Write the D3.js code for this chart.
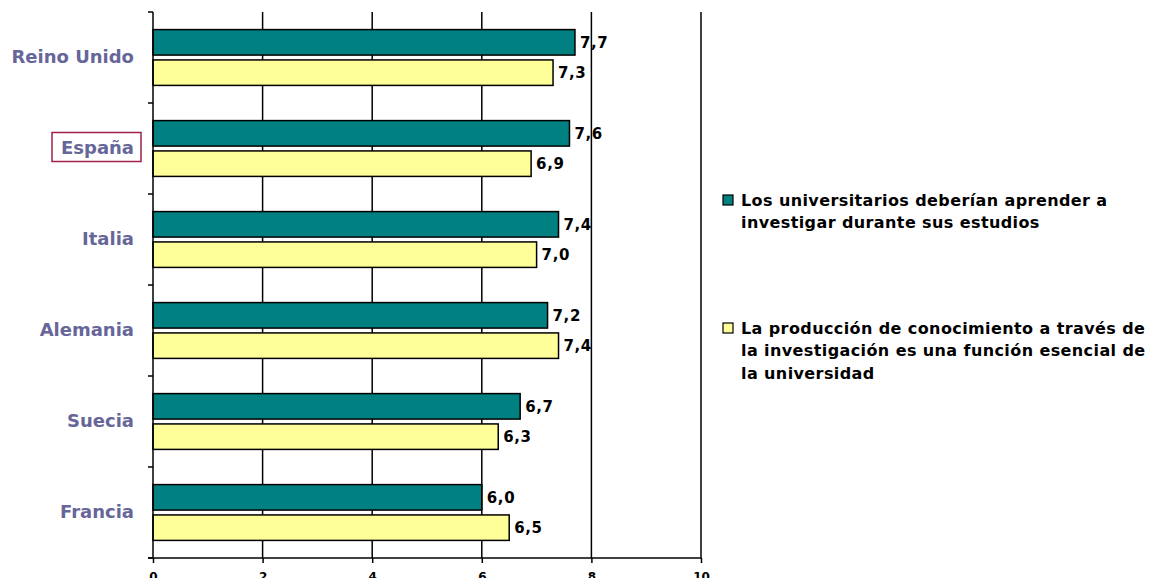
<!DOCTYPE html>
<html><head><meta charset="utf-8">
<script src="https://cdn.jsdelivr.net/npm/d3@7"></script>
<style>body{margin:0;background:#fff}</style>
</head><body>
<svg id="c" width="1161" height="578"></svg>
<script>
const categories = ["Reino Unido","España","Italia","Alemania","Suecia","Francia"];
const seriesNames = ["Los universitarios deberían aprender a investigar durante sus estudios",
  "La producción de conocimiento a través de la investigación es una función esencial de la universidad"];
const seriesA = [7.7,7.6,7.4,7.2,6.7,6.0];
const seriesB = [7.3,6.9,7.0,7.4,6.3,6.5];
const xTicks = [0,2,4,6,8,10];
const legendLines = [["Los universitarios deberían aprender a","investigar durante sus estudios"],
  ["La producción de conocimiento a través de","la investigación es una función esencial de","la universidad"]];
const colors = ["#008080","#FFFF99"];
const highlighted = "España";

const svg = d3.select("#c");
const x = d3.scaleLinear().domain([0,10]).range([153,701]);
const y = d3.scaleBand().domain(categories).range([12,558]);
const sub = d3.scaleBand().domain([0,1]).range([0,y.bandwidth()]).paddingInner(0.16).paddingOuter(0.58);
const fmt = v => d3.format(".1f")(v).replace(".",",");
const FONT = "DejaVu Sans, Verdana";

// title remnant
svg.append("text").attr("x",10).attr("y",-9).attr("font-family",FONT).attr("font-weight","bold")
  .attr("font-size",16).attr("fill","#990033").text("p");

// gridlines
svg.append("g").selectAll("line").data(xTicks.slice(1)).join("line")
  .attr("x1",d=>x(d)).attr("x2",d=>x(d)).attr("y1",12).attr("y2",558)
  .attr("stroke","#000").attr("stroke-width",1.5);

// bars
const data = categories.map((c,i)=>({c, vals:[seriesA[i],seriesB[i]]}));
const g = svg.append("g");
data.forEach(d=>{
  d.vals.forEach((v,j)=>{
    g.append("rect").attr("x",x(0)).attr("y",y(d.c)+sub(j)).attr("width",x(v)-x(0)).attr("height",sub.bandwidth())
      .attr("fill",colors[j]).attr("stroke","#000").attr("stroke-width",1.5);
    g.append("text").attr("x",x(v)+5).attr("y",y(d.c)+sub(j)+sub.bandwidth()/2).attr("dy","0.35em")
      .attr("font-family",FONT).attr("font-weight","bold").attr("font-size",15).attr("letter-spacing",0.6).attr("fill","#000")
      .text(fmt(v));
  });
});

// left axis
svg.append("line").attr("x1",x(0)).attr("x2",x(0)).attr("y1",12).attr("y2",558).attr("stroke","#000").attr("stroke-width",1.5);
svg.append("g").selectAll("line").data(d3.range(categories.length+1)).join("line")
  .attr("x1",x(0)-5).attr("x2",x(0)).attr("y1",i=>12+i*y.step()).attr("y2",i=>12+i*y.step())
  .attr("stroke","#000").attr("stroke-width",1.5);

// category labels
svg.append("g").selectAll("text").data(categories).join("text")
  .attr("x",134).attr("y",d=>y(d)+y.bandwidth()/2-1).attr("dy","0.35em").attr("text-anchor","end")
  .attr("font-family",FONT).attr("font-weight","bold").attr("font-size",18).attr("fill","#666699")
  .text(d=>d);
svg.append("rect").attr("x",52).attr("y",y(highlighted)+y.bandwidth()/2-16).attr("width",89).attr("height",29)
  .attr("fill","none").attr("stroke","#A0204A").attr("stroke-width",1.5);

// bottom axis
const xAxis = d3.axisBottom(x).tickValues(xTicks).tickSize(5).tickSizeOuter(0).tickFormat(d3.format("d"));
const ax = svg.append("g").attr("transform","translate(0,558)").call(xAxis);
ax.select(".domain").attr("stroke-width",1.5).attr("d","M148,0H701");
ax.selectAll(".tick line").attr("stroke-width",1.5);
ax.selectAll(".tick text").attr("font-family",FONT).attr("font-weight","bold").attr("font-size",12).attr("fill","#000").attr("y",14).attr("dy","0.71em");

// legend
const leg = svg.append("g");
const legY = [200, 328];
legendLines.forEach((lines,i)=>{
  leg.append("rect").attr("x",723).attr("y",legY[i]-5).attr("width",10).attr("height",10)
    .attr("fill",colors[i]).attr("stroke","#000").attr("stroke-width",1.2);
  lines.forEach((t,k)=>{
    leg.append("text").attr("x",741).attr("y",legY[i]+k*22.5).attr("dy","0.35em")
      .attr("font-family",FONT).attr("font-weight","bold").attr("font-size",16).attr("letter-spacing",0.4).attr("fill","#000").text(t);
  });
});
</script>
</body></html>
